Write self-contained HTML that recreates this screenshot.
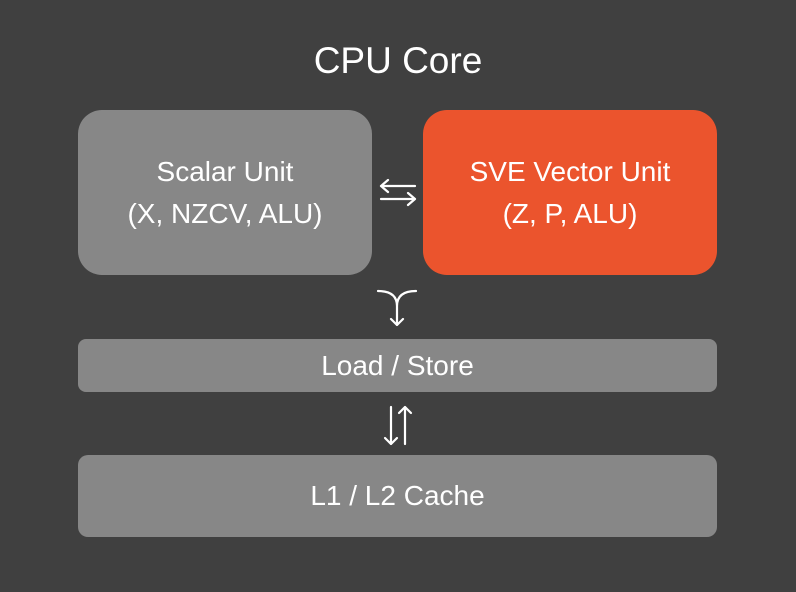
<!DOCTYPE html>
<html><head><style>
body{margin:0;width:796px;height:592px;background:#404040;font-family:"Liberation Sans",sans-serif;position:relative;overflow:hidden}
.t{position:absolute;color:#fff;text-align:center}
.b{position:absolute;background:#878787;color:#fff;display:flex;align-items:center;justify-content:center;text-align:center;font-size:28px;line-height:42px}
</style></head><body>
<div class="t" style="left:0;width:796px;top:40px;font-size:37px">CPU Core</div>
<div class="b" style="left:78px;top:110px;width:294px;height:165px;border-radius:24px">Scalar Unit<br>(X, NZCV, ALU)</div>
<div class="b" style="left:423px;top:110px;width:294px;height:165px;border-radius:24px;background:#eb542d">SVE Vector Unit<br>(Z, P, ALU)</div>
<div class="b" style="left:78px;top:339px;width:639px;height:53px;border-radius:8px">Load / Store</div>
<div class="b" style="left:78px;top:455px;width:639px;height:82px;border-radius:10px">L1 / L2 Cache</div>
<svg width="796" height="592" style="position:absolute;left:0;top:0" fill="none" stroke="#fff" stroke-width="2.2" stroke-linecap="round" stroke-linejoin="round">
<path d="M381 186H415M388 180L381 186L388 192"/>
<path d="M381 199H415M408 193L415 199L408 205"/>
<path d="M378 291Q397 291 397 306V325M416 291Q397 291 397 306M391 319L397 325L403 319"/>
<path d="M391 407V444M385 438L391 444L397 438"/>
<path d="M405 444V407M399 413L405 407L411 413"/>
</svg>
</body></html>
